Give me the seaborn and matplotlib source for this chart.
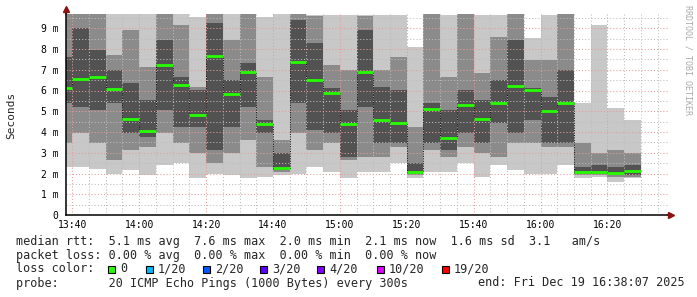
import numpy as np
import pandas as pd
import matplotlib
matplotlib.use("Agg")
import matplotlib.pyplot as plt
from matplotlib.patches import Rectangle
import seaborn as sns

# ---------------- data (milliseconds) ----------------
# 5-minute smokeping steps; bar end minutes relative to 13:40 (13:40 ... 16:30)
bar_end_min = list(range(0, 171, 5))

median = [6.10, 6.55, 6.63, 6.07, 4.64, 4.05, 7.24, 6.27, 4.82, 7.65, 5.82, 6.90,
          4.37, 2.25, 7.37, 6.50, 5.90, 4.39, 6.90, 4.60, 4.43, 2.07, 5.12, 3.70,
          5.29, 4.64, 5.38, 6.22, 6.04, 5.03, 5.38, 2.07, 2.09, 2.02, 2.10]
rtt_min = [2.33, 2.33, 2.20, 2.00, 2.17, 1.93, 2.41, 2.49, 1.77, 2.00, 1.93, 1.77,
           1.85, 1.93, 2.00, 2.33, 2.09, 1.77, 2.09, 2.09, 2.49, 1.77, 2.09, 2.09,
           2.49, 1.85, 2.41, 2.17, 2.00, 2.00, 2.41, 1.77, 1.85, 1.61, 1.77]
rtt_max = [10.0, 10.0, 10.0, 10.0, 10.0, 10.0, 10.0, 10.0, 9.56, 10.0, 10.0, 10.0,
           9.56, 10.0, 10.0, 9.64, 9.64, 9.64, 9.64, 9.64, 9.64, 8.11, 9.64, 9.64,
           9.64, 9.64, 9.64, 9.64, 8.53, 9.64, 9.64, 5.38, 9.16, 5.14, 4.58]
mid_lo = [3.45, 3.94, 3.45, 2.65, 3.13, 3.30, 3.94, 3.45, 2.97, 2.49, 2.97, 3.61,
          2.33, 2.09, 3.94, 3.13, 3.45, 2.65, 2.81, 2.81, 3.30, 1.93, 3.13, 2.81,
          3.30, 2.97, 2.81, 3.45, 3.45, 3.30, 3.30, 1.93, 1.93, 1.85, 1.85]
mid_hi = [10.0, 10.0, 10.0, 7.71, 8.92, 7.15, 10.0, 9.16, 6.18, 10.0, 8.43, 10.0,
          6.67, 3.61, 10.0, 9.60, 7.23, 6.99, 9.60, 6.99, 7.63, 4.26, 10.0, 6.67,
          10.0, 6.83, 8.59, 10.0, 7.47, 7.47, 10.0, 3.45, 2.97, 3.13, 2.97]
dark_lo = [5.38, 5.22, 5.06, 5.38, 3.94, 3.78, 5.06, 4.26, 4.26, 3.13, 4.26, 5.22,
           3.94, 2.17, 5.38, 4.10, 3.94, 2.81, 5.22, 3.45, 3.45, 2.00, 3.45, 3.13,
           3.94, 3.45, 4.42, 3.94, 4.58, 3.45, 3.45, 2.00, 2.00, 1.93, 1.93]
dark_hi = [7.63, 9.00, 7.95, 6.99, 6.35, 5.54, 8.43, 6.67, 6.02, 9.24, 6.50, 7.31,
           4.58, 2.97, 9.40, 8.27, 6.10, 5.06, 8.92, 6.18, 6.02, 2.49, 5.38, 5.06,
           6.02, 5.54, 6.50, 8.43, 6.10, 5.70, 6.99, 2.33, 2.41, 2.33, 2.41]

x_tick_labels = ["13:40", "14:00", "14:20", "14:40", "15:00", "15:20", "15:40", "16:00", "16:20"]
y_tick_labels = ["0", "1 m", "2 m", "3 m", "4 m", "5 m", "6 m", "7 m", "8 m", "9 m"]

legend_rtt = "median rtt:  5.1 ms avg  7.6 ms max  2.0 ms min  2.1 ms now  1.6 ms sd  3.1   am/s"
legend_loss = "packet loss: 0.00 % avg  0.00 % max  0.00 % min  0.00 % now"
loss_labels = ["0", "1/20", "2/20", "3/20", "4/20", "10/20", "19/20"]
loss_colors = ["#26ff00", "#00b8ff", "#0059ff", "#5e00ff", "#7e00ff", "#dd00ff", "#ff0000"]
probe_text = "probe:       20 ICMP Echo Pings (1000 Bytes) every 300s"
end_text = "end: Fri Dec 19 16:38:07 2025"

# ---------------- figure ----------------
sns.set_style("white")
MONO = ["DejaVu Sans Mono"]
plt.rcParams["font.family"] = MONO

W, H = 697, 297
fig = plt.figure(figsize=(W / 100, H / 100), dpi=100)
fig.patch.set_facecolor("white")
ax = fig.add_axes([66 / W, 1 - 215 / H, 602 / W, 201 / H])

df = pd.DataFrame({
    "end": bar_end_min, "median": median, "min": rtt_min, "max": rtt_max,
    "mid_lo": mid_lo, "mid_hi": mid_hi, "dark_lo": dark_lo, "dark_hi": dark_hi,
})
df["start"] = df["end"] - 5

# smoke bands
for lo, hi, col in [("min", "max", "#c8c8c8"), ("mid_lo", "mid_hi", "#8b8b8b"),
                    ("dark_lo", "dark_hi", "#525252")]:
    ax.bar(df["start"], df[hi] - df[lo], bottom=df[lo], width=5, align="edge",
           color=col, linewidth=0, antialiased=False, zorder=1)

# black dotted step connectors (seaborn) and green medians
sns.lineplot(data=df, x="start", y="median", drawstyle="steps-post", color="#111111",
             linestyle=(0, (1, 1.5)), linewidth=0.7, ax=ax, zorder=3, errorbar=None)
ax.hlines(df["median"], df["start"], df["end"], color=loss_colors[0], linewidth=2.0,
          zorder=4, capstyle="butt")

# axes / grid
ax.set_xlim(-1.88, 178.12)
ax.set_ylim(0, 201 / 20.75)
ax.set_xticks(np.arange(0, 161, 20))
ax.set_xticklabels(x_tick_labels)
ax.set_xticks(np.arange(0, 180, 5), minor=True)
ax.set_yticks(np.arange(0, 10))
ax.set_yticklabels(y_tick_labels)
ax.set_yticks(np.arange(0, 9.7, 0.5), minor=True)
ax.set_axisbelow(False)
ax.grid(which="major", color="#e99a9a", linestyle=(0, (1, 2)), linewidth=0.75)
ax.grid(which="minor", color="#bdbdbd", linestyle=(0, (1, 2)), linewidth=0.75)
ax.tick_params(which="major", length=2, width=0.8, color="black", labelsize=7,
               labelcolor="black")
ax.tick_params(axis="y", which="major", pad=3.5)
ax.tick_params(axis="x", which="major", pad=1.5)
ax.tick_params(which="minor", length=0)
ax.set_xlabel("")
ax.set_ylabel("")
for s in ["top", "right"]:
    ax.spines[s].set_visible(False)
for s in ["left", "bottom"]:
    ax.spines[s].set_color("black")
    ax.spines[s].set_linewidth(1.1)
    ax.spines[s].set_zorder(5)

# axis arrows
ax.plot([0, 0], [1, 1 + 4 / 201], transform=ax.transAxes, clip_on=False,
        color="black", linewidth=1.1, zorder=5)
ax.plot([0], [1 + 5 / 201], transform=ax.transAxes, clip_on=False, marker="^",
        markersize=4, color="#8b1010", linestyle="none", zorder=6)
ax.plot([1, 1 + 2 / 602], [0, 0], transform=ax.transAxes, clip_on=False,
        color="black", linewidth=1.1, zorder=5)
ax.plot([1 + 3 / 602], [0], transform=ax.transAxes, clip_on=False, marker=">",
        markersize=4, color="#8b1010", linestyle="none", zorder=6)

# labels and legend text
def px(x, y):
    return x / W, 1 - y / H

fig.text(*px(11, 115), "Seconds", rotation=90, fontsize=8, va="center", ha="center",
         family=MONO)
fig.text(*px(688, 60), "RRDTOOL / TOBI OETIKER", rotation=270, fontsize=6,
         va="center", ha="center", color="#aaaaaa", family=MONO)

fs = 8.5
fig.text(*px(16, 241), legend_rtt, fontsize=fs, va="center", ha="left", family=MONO)
fig.text(*px(16, 255), legend_loss, fontsize=fs, va="center", ha="left", family=MONO)
fig.text(*px(16, 269), "loss color:", fontsize=fs, va="center", ha="left", family=MONO)
square_x = [108, 146, 203, 260, 317, 377, 442]
for sx, lab, col in zip(square_x, loss_labels, loss_colors):
    fig.patches.append(Rectangle(px(sx, 272.5), 7 / W, 7 / H, transform=fig.transFigure,
                                 facecolor=col, edgecolor="black", linewidth=0.8))
    fig.text(*px(sx + 12, 269), lab, fontsize=fs, va="center", ha="left", family=MONO)
fig.text(*px(16, 283), probe_text, fontsize=fs, va="center", ha="left", family=MONO)
fig.text(*px(478, 283), end_text, fontsize=fs, va="center", ha="left", family=MONO)

fig.savefig("out.png", dpi=100, facecolor="white")
